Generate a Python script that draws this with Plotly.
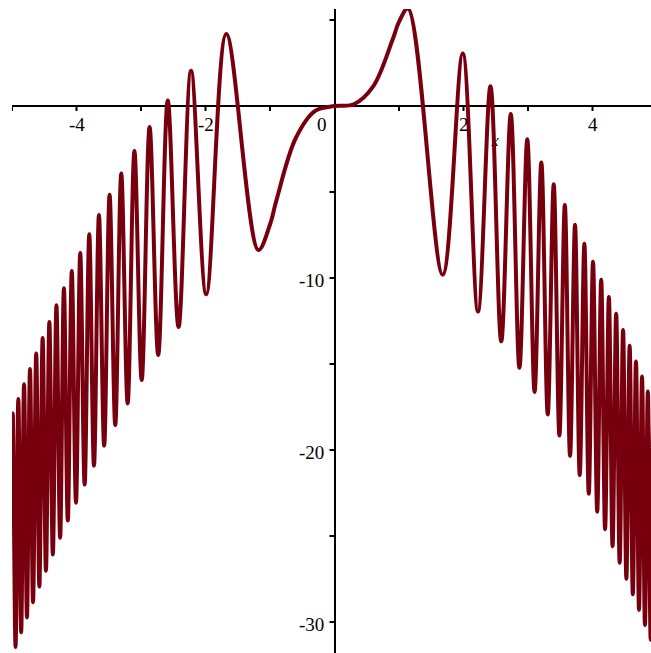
import plotly.graph_objects as go

# Curve: extrema (peaks/troughs) and a few points of the smooth centre part
x_left = [-5.0, -4.988, -4.945, -4.902, -4.858, -4.813, -4.768, -4.721, -4.674, -4.625,
          -4.576, -4.525, -4.474, -4.421, -4.367, -4.311, -4.254, -4.195, -4.135, -4.073,
          -4.008, -3.942, -3.874, -3.802, -3.729, -3.652, -3.571, -3.487, -3.399, -3.306,
          -3.207, -3.102, -2.989, -2.867, -2.733, -2.585, -2.418, -2.224, -1.988, -1.677,
          -1.18]
y_left = [-20.7, -17.88, -31.45, -17.03, -30.60, -16.17, -29.73, -15.29, -28.85, -14.39,
          -27.94, -13.48, -27.02, -12.55, -26.07, -11.59, -25.10, -10.60, -24.10, -9.59,
          -23.06, -8.54, -22.01, -7.46, -20.91, -6.34, -19.75, -5.16, -18.55, -3.93,
          -17.29, -2.62, -15.93, -1.22, -14.47, 0.32, -12.85, 2.05, -10.95, 4.19,
          -8.37]
x_mid = [-1.0, -0.9, -0.6, -0.3, 0.0, 0.3, 0.6, 0.9, 1.0]
y_mid = [-6.89, -5.47, -1.86, -0.28, 0.0, 0.10, 1.14, 3.85, 4.89]
x_right = [1.14, 1.677, 1.988, 2.224, 2.418, 2.585, 2.733, 2.867, 2.989, 3.102,
           3.207, 3.306, 3.399, 3.487, 3.571, 3.652, 3.729, 3.802, 3.874, 3.942,
           4.008, 4.073, 4.135, 4.195, 4.254, 4.311, 4.367, 4.421, 4.474, 4.525,
           4.576, 4.625, 4.674, 4.721, 4.768, 4.813, 4.858, 4.902, 4.945, 4.988,
           5.0]
y_right = [5.67, -9.81, 3.05, -11.95, 1.15, -13.68, -0.47, -15.22, -1.93, -16.62,
           -3.28, -17.93, -4.55, -19.16, -5.75, -20.34, -6.91, -21.46, -8.01, -22.54,
           -9.06, -23.59, -10.10, -24.60, -11.10, -25.59, -12.07, -26.55, -13.02, -27.48,
           -13.94, -28.39, -14.85, -29.29, -15.73, -30.17, -16.60, -31.03, -17.45, -31.88,
           -29.3]

x_ticks = [-5, -4, -3, -2, -1, 1, 2, 3, 4]
x_tick_labels = {-4: "-4", -2: "-2", 0: "0", 2: "2", 4: "4"}
y_ticks = [5, -5, -10, -15, -20, -25, -30]
y_tick_labels = {-10: "-10", -20: "-20", -30: "-30"}

x_range = [-5.0, 4.907]
y_range = [-31.8, 5.64]

xs = x_left + x_mid + x_right
ys = y_left + y_mid + y_right

CURVE = "#78000E"
FONT = "Times New Roman"

fig = go.Figure()
# axis name "x", drawn beneath the curve
fig.add_trace(go.Scatter(x=[2.49], y=[-2.1], mode="text", text=["<i>x</i>"],
                         textfont=dict(family=FONT, size=16, color="black"),
                         hoverinfo="skip", showlegend=False))
fig.add_trace(go.Scatter(x=xs, y=ys, mode="lines",
                         line=dict(color=CURVE, width=4, shape="spline", smoothing=1.0),
                         hoverinfo="skip", showlegend=False))

shapes = []
for t in x_ticks:
    shapes.append(dict(type="line", xref="x", yref="y", x0=t, x1=t,
                       ysizemode="pixel", yanchor=0, y0=0, y1=-5,
                       line=dict(color="black", width=2)))
for t in y_ticks:
    shapes.append(dict(type="line", xref="x", yref="y", y0=t, y1=t,
                       xsizemode="pixel", xanchor=0, x0=0, x1=-5,
                       line=dict(color="black", width=2)))

annotations = []
for t, lab in x_tick_labels.items():
    annotations.append(dict(x=t, y=0, xref="x", yref="y", text=lab, showarrow=False,
                            yshift=-18, xshift=(-13 if t == 0 else 0),
                            font=dict(family=FONT, size=19, color="black")))
for t, lab in y_tick_labels.items():
    annotations.append(dict(x=0, y=t, xref="x", yref="y", text=lab, showarrow=False,
                            xanchor="right", xshift=-9, yshift=-2,
                            font=dict(family=FONT, size=19, color="black")))

fig.update_layout(
    width=651, height=653,
    margin=dict(l=12, r=0, t=9, b=0, pad=0),
    paper_bgcolor="white", plot_bgcolor="white",
    font=dict(family=FONT),
    xaxis=dict(range=x_range, showgrid=False, showticklabels=False, ticks="",
               zeroline=True, zerolinecolor="black", zerolinewidth=2, showline=False,
               fixedrange=True),
    yaxis=dict(range=y_range, showgrid=False, showticklabels=False, ticks="",
               zeroline=True, zerolinecolor="black", zerolinewidth=2, showline=False,
               fixedrange=True),
    shapes=shapes,
    annotations=annotations,
    showlegend=False,
)

fig.write_html(
    "out.html",
    config={"displayModeBar": False, "responsive": False},
    post_script="document.documentElement.style.overflow='hidden';"
                "document.body.style.margin='0';document.body.style.overflow='hidden';",
)
